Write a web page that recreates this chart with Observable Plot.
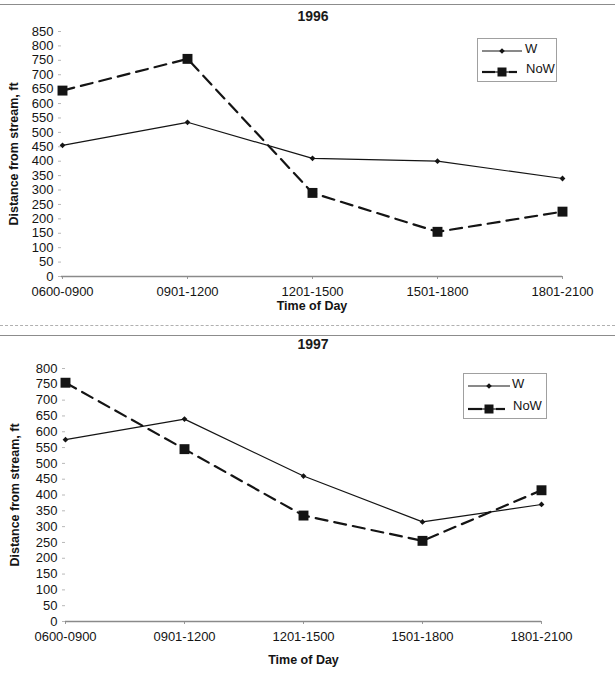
<!DOCTYPE html>
<html>
<head>
<meta charset="utf-8">
<script src="https://cdn.jsdelivr.net/npm/d3@7"></script>
<script src="https://cdn.jsdelivr.net/npm/@observablehq/plot@0.6"></script>
<style>
  body { margin: 0; background: #fff; }
  #page { position: relative; width: 615px; height: 678px; overflow: hidden; font-family: "Liberation Sans", Arial, sans-serif; color: #1a1a1a; }
  .abs { position: absolute; }
  .title { position: absolute; width: 80px; text-align: center; font-weight: bold; font-size: 14px; line-height: 15px; }
  .rule { position: absolute; left: 0; width: 615px; }
</style>
</head>
<body>
<div id="page">
  <div class="rule" style="top:4px;border-top:1.5px solid #8c8c8c;"></div>
  <div class="title" style="left:273px;top:9px;">1996</div>
  <div id="plot1996" class="abs" style="left:0;top:0;"></div>
  <div id="legend1996" class="abs" style="left:477px;top:38px;"></div>

  <div class="rule" style="top:325px;border-top:1px dashed #b0b0b0;"></div>
  <div class="rule" style="top:335px;border-top:1.5px solid #8c8c8c;"></div>
  <div class="title" style="left:273px;top:337px;">1997</div>
  <div id="plot1997" class="abs" style="left:0;top:336px;"></div>
  <div id="legend1997" class="abs" style="left:463px;top:373px;"></div>
</div>
<script>
// Time-of-day periods shared by both years
const categories = ["0600-0900", "0901-1200", "1201-1500", "1501-1800", "1801-2100"];

// Mean distance from stream (ft), 1996
const w1996 = [455, 535, 410, 400, 340];
const now1996 = [645, 755, 290, 155, 225];

// Mean distance from stream (ft), 1997
const w1997 = [575, 640, 460, 315, 370];
const now1997 = [755, 545, 335, 255, 415];

// Y-axis tick values
const yTicks1996 = [0, 50, 100, 150, 200, 250, 300, 350, 400, 450, 500, 550, 600, 650, 700, 750, 800, 850];
const yTicks1997 = [0, 50, 100, 150, 200, 250, 300, 350, 400, 450, 500, 550, 600, 650, 700, 750, 800];

// Series names
const seriesW = "W";
const seriesNoW = "NoW";

const xLabel = "Time of Day";
const yLabel = "Distance from stream, ft";

const ink = "#141414";
const font = "Liberation Sans, Arial, sans-serif";

function rows(values) {
  return categories.map((time, i) => ({time, value: values[i]}));
}

function panel({w, now, yTicks, height, marginLeft, marginRight, marginTop, marginBottom, xLabelDy, yLabelDx}) {
  return Plot.plot({
    width: 615,
    height,
    marginLeft,
    marginRight,
    marginTop,
    marginBottom,
    style: {fontFamily: font, fontSize: "13px", color: ink, background: "transparent", overflow: "visible"},
    x: {type: "point", domain: categories, padding: 0},
    y: {domain: [0, yTicks[yTicks.length - 1]]},
    marks: [
      Plot.axisY({ticks: yTicks, tickSize: 3, tickPadding: 5, stroke: "#b8b8b8", fill: ink, fontSize: 13, label: null, tickFormat: d => String(d)}),
      Plot.axisX({tickSize: 3, tickPadding: 7, stroke: "#9a9a9a", fill: ink, fontSize: 13, label: null}),
      Plot.ruleY([0], {stroke: "#8a8a8a", strokeWidth: 1.3}),
      Plot.text([xLabel], {frameAnchor: "bottom", dy: xLabelDy, fontWeight: "bold", fontSize: 12.5, fill: ink}),
      Plot.text([yLabel], {frameAnchor: "left", textAnchor: "middle", rotate: -90, dx: yLabelDx, fontWeight: "bold", fontSize: 12.5, fill: ink}),
      Plot.line(rows(now), {x: "time", y: "value", stroke: ink, strokeWidth: 2.2, strokeDasharray: "12,7"}),
      Plot.dot(rows(now), {x: "time", y: "value", symbol: "square", r: 5.6, fill: ink, stroke: "none"}),
      Plot.line(rows(w), {x: "time", y: "value", stroke: ink, strokeWidth: 1.2}),
      Plot.dot(rows(w), {x: "time", y: "value", symbol: "diamond2", r: 2.6, fill: ink, stroke: "none"})
    ]
  });
}

function legend(el, {width, height, rowW, rowNoW, lineEnd, markX, textX}) {
  const svg = d3.select(el).append("svg")
    .attr("width", width).attr("height", height)
    .style("font-family", font).style("font-size", "13px");
  svg.append("rect").attr("x", 0.5).attr("y", 0.5).attr("width", width - 1).attr("height", height - 1)
    .attr("fill", "white").attr("stroke", "#a0a0a0");
  // W: thin solid line with small marker
  svg.append("line").attr("x1", 5).attr("x2", lineEnd).attr("y1", rowW).attr("y2", rowW)
    .attr("stroke", ink).attr("stroke-width", 1.2);
  svg.append("path").attr("d", d3.symbol(d3.symbolDiamond2, 20)())
    .attr("transform", `translate(${markX},${rowW})`).attr("fill", ink);
  svg.append("text").attr("x", textX).attr("y", rowW + 2).attr("fill", ink).text(seriesW);
  // NoW: heavy line segments either side of a square marker
  svg.append("line").attr("x1", 5).attr("x2", markX - 7).attr("y1", rowNoW).attr("y2", rowNoW)
    .attr("stroke", ink).attr("stroke-width", 2.2);
  svg.append("line").attr("x1", markX + 7).attr("x2", lineEnd - 5).attr("y1", rowNoW).attr("y2", rowNoW)
    .attr("stroke", ink).attr("stroke-width", 2.2);
  svg.append("line").attr("x1", markX - 7).attr("x2", markX + 7).attr("y1", rowNoW).attr("y2", rowNoW)
    .attr("stroke", ink).attr("stroke-width", 1.2);
  svg.append("rect").attr("x", markX - 4.5).attr("y", rowNoW - 4.5).attr("width", 9).attr("height", 9).attr("fill", ink);
  svg.append("text").attr("x", textX + 1).attr("y", rowNoW + 1).attr("fill", ink).text(seriesNoW);
}

document.getElementById("plot1996").append(panel({
  w: w1996, now: now1996, yTicks: yTicks1996,
  height: 326, marginLeft: 61, marginRight: 53, marginTop: 31, marginBottom: 50,
  xLabelDy: 33, yLabelDx: -48
}));

document.getElementById("plot1997").append(panel({
  w: w1997, now: now1997, yTicks: yTicks1997,
  height: 342, marginLeft: 65, marginRight: 74, marginTop: 32, marginBottom: 57,
  xLabelDy: 42, yLabelDx: -51
}));

legend(document.getElementById("legend1996"), {width: 80, height: 44, rowW: 13, rowNoW: 34, lineEnd: 45, markX: 25, textX: 48});
legend(document.getElementById("legend1997"), {width: 84, height: 46, rowW: 13, rowNoW: 36, lineEnd: 47, markX: 26, textX: 49});
</script>
</body>
</html>
